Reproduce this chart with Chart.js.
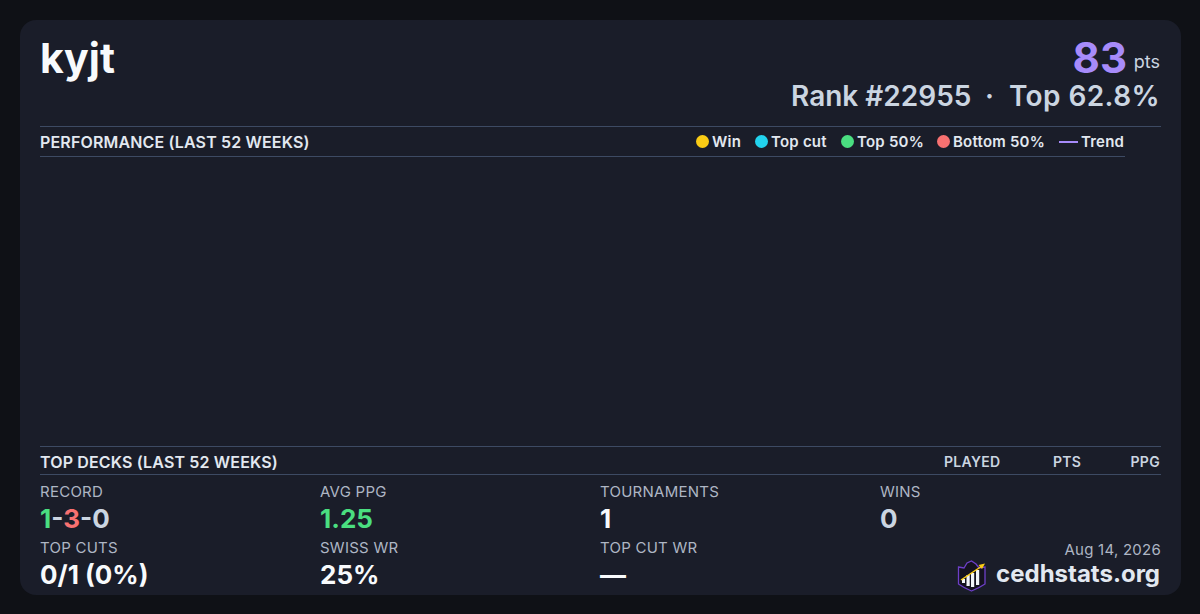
<!DOCTYPE html>
<html><head><meta charset="utf-8">
<script src="https://cdn.jsdelivr.net/npm/chart.js@4"></script>
<style>
html,body{margin:0;padding:0;width:1200px;height:614px;overflow:hidden;background:#0f1116;font-family:Inter,sans-serif}
#card{position:absolute;left:20px;top:20px;width:1161px;height:575px;background:#1a1d29;border-radius:16px}
.t{position:absolute;white-space:nowrap;line-height:1}
.r{text-align:right}
.rule{position:absolute;height:1px;background:#3d4a63}
.lab{font-size:15px;letter-spacing:.25px;color:#aeb6c4}
.val{font-size:26px;font-weight:700;color:#f8fafc}
.hd{font-size:16px;font-weight:600;letter-spacing:.15px;color:#e2e8f0}
.th{font-size:14px;font-weight:600;letter-spacing:.3px;color:#cbd5e1}
.leg{font-size:15px;font-weight:600;letter-spacing:.22px;color:#e2e8f0}
.dot{position:absolute;width:13px;height:13px;border-radius:50%;top:135px}
#wrap{position:absolute;left:40px;top:157px;width:1085px;height:289px}
</style></head><body>
<div id="card"></div>
<div class="t" style="left:40px;top:38px;font-size:41px;font-weight:700;color:#f8fafc">kyjt</div>
<div class="t" style="right:73px;top:37px;font-size:42px;font-weight:700;color:#a78bfa">83</div>
<div class="t" style="right:40px;top:53px;font-size:18px;color:#cbd5e1">pts</div>
<div class="t" style="left:791px;top:82px;font-size:28px;font-weight:600;color:#cbd5e1">Rank #22955</div>
<div class="t" style="left:985px;top:82px;font-size:28px;font-weight:600;color:#cbd5e1">·</div>
<div class="t" style="right:40px;top:82px;font-size:28px;font-weight:600;letter-spacing:.4px;color:#cbd5e1">Top 62.8%</div>

<div class="rule" style="left:40px;top:126px;width:1121px"></div>
<div class="t hd" style="left:40px;top:134px">PERFORMANCE (LAST 52 WEEKS)</div>
<div class="dot" style="left:696px;background:#facc15"></div><div class="t leg" style="left:712px;top:134px">Win</div>
<div class="dot" style="left:755px;background:#22d3ee"></div><div class="t leg" style="left:771px;top:134px">Top cut</div>
<div class="dot" style="left:841px;background:#4ade80"></div><div class="t leg" style="left:857px;top:134px">Top 50%</div>
<div class="dot" style="left:937px;background:#f87171"></div><div class="t leg" style="left:953px;top:134px">Bottom 50%</div>
<div style="position:absolute;left:1059px;top:141px;width:19px;height:2px;background:#a78bfa"></div><div class="t leg" style="left:1081px;top:134px">Trend</div>
<div class="rule" style="left:40px;top:156px;width:1085px"></div>
<div id="wrap"><canvas id="c"></canvas></div>

<div class="rule" style="left:40px;top:446px;width:1121px"></div>
<div class="t hd" style="left:40px;top:454px">TOP DECKS (LAST 52 WEEKS)</div>
<div class="t th" style="left:944px;top:455px">PLAYED</div>
<div class="t th" style="left:1053px;top:455px">PTS</div>
<div class="t th" style="left:1130.5px;top:455px">PPG</div>
<div class="rule" style="left:40px;top:474px;width:1121px"></div>

<div class="t lab" style="left:40px;top:484px">RECORD</div>
<div class="t val" style="left:40px;top:506px;color:#cbd5e1"><span style="color:#4ade80">1</span>-<span style="color:#f87171">3</span>-0</div>
<div class="t lab" style="left:320px;top:484px">AVG PPG</div>
<div class="t val" style="left:320px;top:506px;color:#4ade80">1.25</div>
<div class="t lab" style="left:600px;top:484px">TOURNAMENTS</div>
<div class="t val" style="left:600px;top:506px">1</div>
<div class="t lab" style="left:880px;top:484px">WINS</div>
<div class="t val" style="left:880px;top:506px;color:#cbd5e1">0</div>

<div class="t lab" style="left:40px;top:540px">TOP CUTS</div>
<div class="t val" style="left:40px;top:562px">0/1 (0%)</div>
<div class="t lab" style="left:320px;top:540px">SWISS WR</div>
<div class="t val" style="left:320px;top:562px">25%</div>
<div class="t lab" style="left:600px;top:540px">TOP CUT WR</div>
<div class="t val" style="left:600px;top:562px">—</div>
<div class="t lab r" style="right:39px;top:542px">Aug 14, 2026</div>
<div class="t" style="right:40px;top:562px;font-size:24px;font-weight:700;color:#e2e8f0">cedhstats.org</div>
<svg style="position:absolute;left:957px;top:559px" width="30" height="33" viewBox="0 0 30 33">
<path d="M1.5 8 L7 9 L10 4 L14.5 2 L19 5 L22 9 L28 8 L28 25 Q22 29 14.5 32 Q7 29 1.5 25 Z" fill="#14121f" stroke="#6d3fc8" stroke-width="1.3"/>
<rect x="5" y="20" width="3" height="4" fill="#f1f5f9"/><rect x="9.5" y="16" width="3.2" height="11" fill="#f1f5f9"/><rect x="14" y="14" width="3.2" height="14" fill="#f1f5f9"/><rect x="19" y="11" width="3.2" height="15" fill="#f1f5f9"/>
<path d="M4 21 L25 7" stroke="#facc15" stroke-width="1.5"/><path d="M28 4.5 L21.5 6 L25 10 Z" fill="#facc15"/>
</svg>
<script>
const weeks = [];
const winPoints = [];
const topCutPoints = [];
const top50Points = [];
const bottom50Points = [];
const trendValues = [];
new Chart(document.getElementById('c'), {
  data: {
    labels: weeks,
    datasets: [
      {type:'scatter', label:'Win', data:winPoints, backgroundColor:'#facc15'},
      {type:'scatter', label:'Top cut', data:topCutPoints, backgroundColor:'#22d3ee'},
      {type:'scatter', label:'Top 50%', data:top50Points, backgroundColor:'#4ade80'},
      {type:'scatter', label:'Bottom 50%', data:bottom50Points, backgroundColor:'#f87171'},
      {type:'line', label:'Trend', data:trendValues, borderColor:'#a78bfa', borderWidth:2, pointRadius:0}
    ]
  },
  options: {
    responsive:true, maintainAspectRatio:false, animation:false,
    plugins:{legend:{display:false}, tooltip:{enabled:false}},
    scales:{x:{display:false}, y:{display:false}}
  }
});
</script>
</body></html>
